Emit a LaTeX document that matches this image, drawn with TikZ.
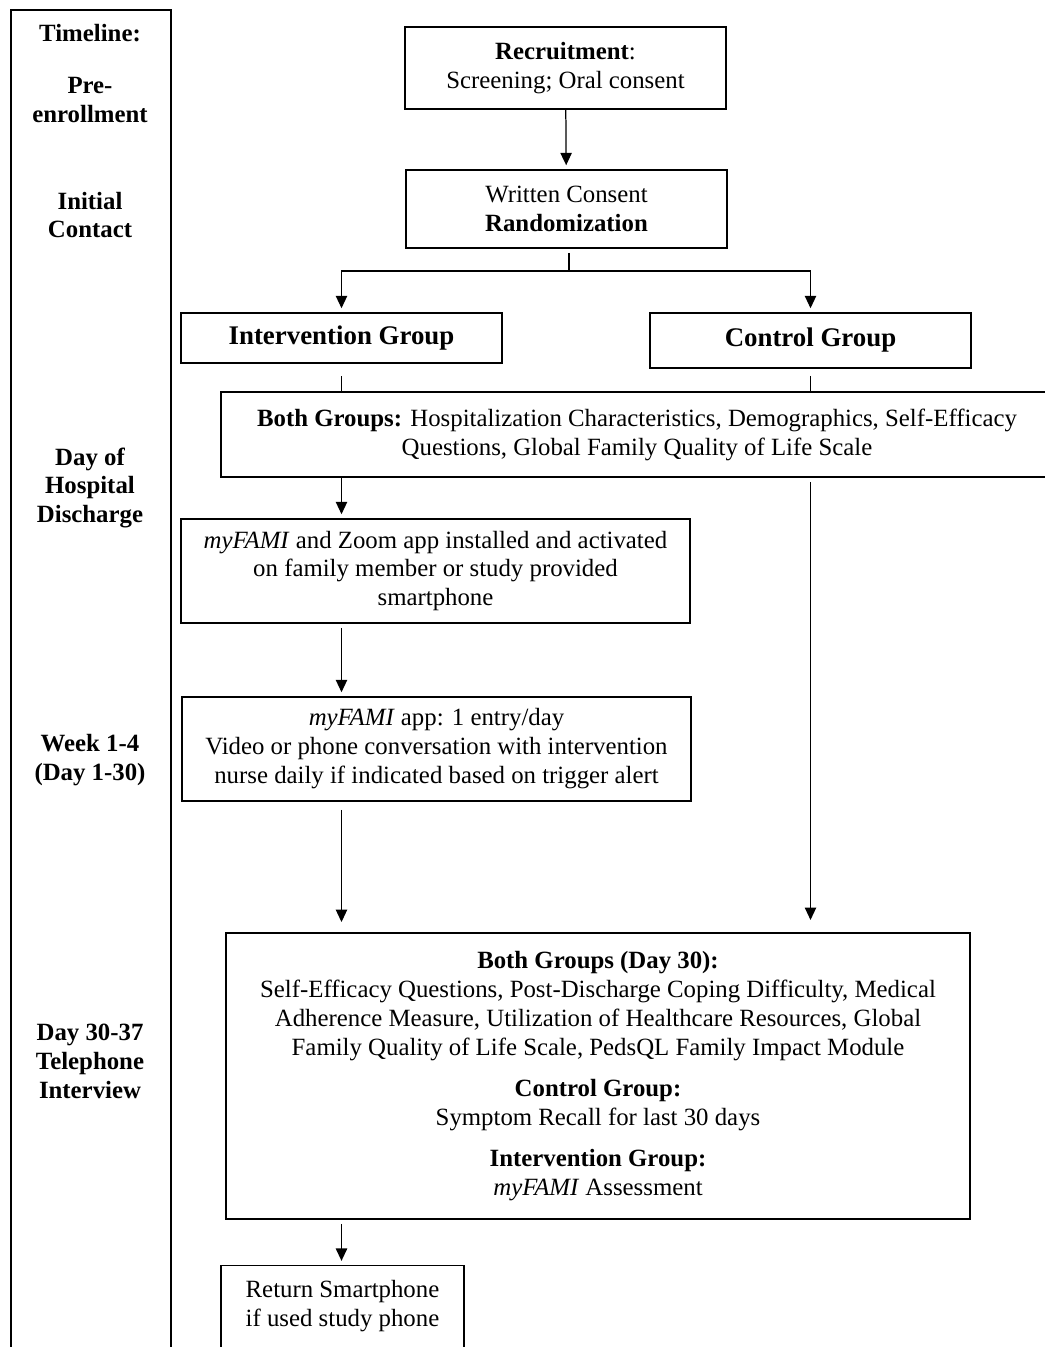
\documentclass[tikz,border=0pt]{standalone}
\usepackage{fontspec}
\setmainfont{Liberation Serif}
\usetikzlibrary{arrows.meta}
\begin{document}
\begin{tikzpicture}[x=0.017cm,y=-0.017cm,
	box/.style={draw,line width=0.6pt,align=center,inner sep=0pt,font=\fontsize{12}{14}\selectfont},
	grp/.style={box,font=\fontsize{13}{15}\selectfont\bfseries},
	lab/.style={align=center,inner sep=0pt,font=\fontsize{12}{14}\selectfont\bfseries},
	arr/.style={-{Triangle[width=5.5pt,length=6pt]},line width=0.6pt,shorten >=2pt}]
	\useasboundingbox (0,0) rectangle (1044,1347);
	\node[draw,line width=1.1pt,minimum width=2.72cm,minimum height=23.4cm,anchor=north west] (t) at (10,9) {};
	\node[lab] (t0) at (90,33) {Timeline:};
	\node[lab] (t1) at (90,100) {Pre-\\enrollment};
	\node[lab] (t2) at (90,215) {Initial\\Contact};
	\node[lab] (t3) at (90,488) {Day of\\Hospital\\Discharge};
	\node[lab] (t4) at (90,760) {Week 1-4\\(Day 1-30)};
	\node[lab] (t5) at (90,1061) {Day 30-37\\Telephone\\Interview};
	\node[box,minimum width=5.457cm,minimum height=1.394cm] (1) at (565.5,68) {\textbf{Recruitment}:\\Screening; Oral consent};
	\node[box,minimum width=5.457cm,minimum height=1.326cm] (2) at (566.5,209) {Written Consent\\\textbf{Randomization}};
	\node[grp,minimum width=5.457cm,minimum height=0.85cm] (3) at (341.5,338) {Intervention Group};
	\node[grp,minimum width=5.457cm,minimum height=0.935cm] (4) at (810.5,340.5) {Control Group};
	\node[box,minimum width=14.144cm,minimum height=1.445cm] (5) at (637,434.5) {\textbf{Both Groups:} Hospitalization Characteristics, Demographics, Self-Efficacy\\Questions, Global Family Quality of Life Scale};
	\node[box,minimum width=8.653cm,minimum height=1.768cm] (6) at (435.5,571) {\textit{myFAMI} and Zoom app installed and activated\\on family member or study provided\\smartphone};
	\node[box,minimum width=8.653cm,minimum height=1.768cm] (7) at (436.5,749) {\textit{myFAMI} app: 1 entry/day\\Video or phone conversation with intervention\\nurse daily if indicated based on trigger alert};
	\node[box,minimum width=12.648cm,minimum height=4.862cm] (8) at (598,1076) {\textbf{Both Groups (Day 30):}\\Self-Efficacy Questions, Post-Discharge Coping Difficulty, Medical\\Adherence Measure, Utilization of Healthcare Resources, Global\\Family Quality of Life Scale, PedsQL Family Impact Module\\[6pt]\textbf{Control Group:}\\Symptom Recall for last 30 days\\[6pt]\textbf{Intervention Group:}\\\textit{myFAMI} Assessment};
	\node[box,minimum width=4.131cm,anchor=north,inner ysep=7pt,text depth=1.2cm] (9) at (342.5,1265) {Return Smartphone\\if used study phone};
	\coordinate (s) at (569,271);
	\draw[arr] (1) -- (2);
	\draw[line width=0.6pt,shorten <=2pt] (s |- 2.south) -- (s);
	\draw[arr] (s) -| (3);
	\draw[arr] (s) -| (4);
	\draw[line width=0.6pt,shorten <=6pt] (3) -- (3 |- 5.north);
	\draw[line width=0.6pt,shorten <=3.5pt] (4) -- (4 |- 5.north);
	\draw[arr] (5.south -| 3) -- (6.north -| 3);
	\draw[arr,shorten <=2pt] (6.south -| 3) -- (7.north -| 3);
	\draw[arr,shorten <=4pt,shorten >=5pt] (7.south -| 3) -- (8.north -| 3);
	\draw[arr,shorten <=2pt,shorten >=6pt] (5.south -| 4) -- (8.north -| 4);
	\draw[arr,shorten <=2pt] (8.south -| 3) -- (9.north -| 3);
\end{tikzpicture}
\end{document}
